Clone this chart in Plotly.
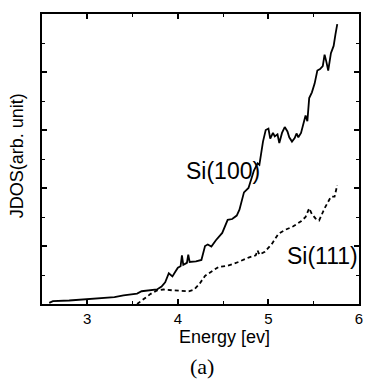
import plotly.graph_objects as go

# Data
energy_100 = [2.58, 2.62, 2.8, 3.0, 3.1, 3.2, 3.3, 3.4, 3.5, 3.55, 3.6, 3.7, 3.77, 3.82, 3.86,
              3.9, 3.94, 3.97, 4.0, 4.03, 4.045, 4.06, 4.08, 4.1, 4.115, 4.13, 4.2, 4.26, 4.3,
              4.33, 4.37, 4.42, 4.49, 4.55, 4.6, 4.65, 4.68, 4.73, 4.78, 4.81, 4.84, 4.88, 4.9,
              4.94, 4.97, 5.0, 5.02, 5.05, 5.07, 5.1, 5.12, 5.15, 5.18, 5.21, 5.23, 5.26, 5.29,
              5.31, 5.33, 5.36, 5.39, 5.41, 5.43, 5.45, 5.48, 5.51, 5.54, 5.57, 5.6, 5.62, 5.64,
              5.66, 5.69, 5.72, 5.74, 5.76]
jdos_100 = [0.04, 0.1, 0.12, 0.16, 0.2, 0.22, 0.24, 0.3, 0.33, 0.36, 0.44, 0.47, 0.5, 0.6, 0.75,
            1.06, 0.95, 1.1, 1.25, 1.3, 1.68, 1.35, 1.4, 1.42, 1.7, 1.45, 1.47, 1.52, 2.0,
            2.05, 1.98, 2.2, 2.45, 2.9, 2.93, 3.05, 3.25, 3.85, 4.0, 4.3, 4.6, 4.85, 4.8,
            5.6, 6.0, 6.05, 5.7, 5.9, 5.78, 5.85, 5.55, 5.9, 6.1, 5.95, 5.75, 5.6, 5.72,
            5.88, 5.75, 5.9, 6.3, 6.5, 6.3, 7.1, 7.3, 7.6, 8.05, 8.1, 8.2, 8.6, 8.35,
            8.05, 8.65, 8.9, 9.3, 9.65]

energy_111 = [3.55, 3.6, 3.65, 3.7, 3.77, 3.84, 3.95, 4.05, 4.12, 4.18, 4.24, 4.3, 4.38, 4.45,
              4.55, 4.67, 4.78, 4.86, 4.88, 4.9, 4.96, 5.04, 5.11, 5.18, 5.27, 5.36, 5.41, 5.45,
              5.48, 5.52, 5.56, 5.62, 5.69, 5.73, 5.76]
jdos_111 = [0.0, 0.12, 0.25, 0.35, 0.47, 0.5, 0.47, 0.44, 0.44, 0.5, 0.7, 0.97, 1.15, 1.28,
            1.32, 1.45, 1.6, 1.68, 1.85, 1.7, 1.8, 2.08, 2.42, 2.55, 2.67, 2.85, 3.0, 3.3,
            3.1, 2.95, 2.88, 3.3, 3.7, 3.7, 4.1]

x_ticks = [3, 4, 5, 6]
x_range = [2.5, 6]
y_range = [0, 10]

label_100 = "Si(100)"
label_111 = "Si(111)"
x_title = "Energy [ev]"
y_title = "JDOS(arb. unit)"
caption = "(a)"

fig = go.Figure()
fig.add_trace(go.Scatter(x=energy_100, y=jdos_100, mode="lines",
                         line=dict(color="black", width=1.8), showlegend=False))
fig.add_trace(go.Scatter(x=energy_111, y=jdos_111, mode="lines",
                         line=dict(color="black", width=1.8, dash="4px,3px"), showlegend=False))

font_main = "Liberation Sans, Arial, sans-serif"
anch = dict(xanchor="center", yanchor="middle", showarrow=False)

fig.add_annotation(x=4.5, y=4.6, text=label_100,
                   font=dict(family=font_main, size=23, color="black"), **anch)
fig.add_annotation(x=5.6, y=1.66, text=label_111,
                   font=dict(family=font_main, size=23, color="black"), **anch)
fig.add_annotation(xref="paper", yref="paper", x=0.577, y=-0.114, text=x_title,
                   font=dict(family=font_main, size=18, color="black"), **anch)
fig.add_annotation(xref="paper", yref="paper", x=-0.078, y=0.51, text=y_title,
                   textangle=-90,
                   font=dict(family=font_main, size=18, color="black"), **anch)
fig.add_annotation(xref="paper", yref="paper", x=0.505, y=-0.214, text=caption,
                   font=dict(family="Liberation Serif, Times New Roman, serif", size=22, color="black"),
                   **anch)

axis_common = dict(showgrid=False, zeroline=False, showline=True, linecolor="black",
                   linewidth=1.8, mirror="ticks", ticks="inside", tickcolor="black",
                   tickwidth=1.5)

fig.update_xaxes(range=x_range, tickvals=x_ticks, ticklen=5,
                 tickfont=dict(family=font_main, size=15, color="black"),
                 minor=dict(dtick=0.5, ticks="inside", ticklen=3, tickcolor="black", tickwidth=1.2),
                 **axis_common)
fig.update_yaxes(range=y_range, dtick=2, ticklen=5, showticklabels=False,
                 minor=dict(dtick=1, ticks="inside", ticklen=3, tickcolor="black", tickwidth=1.2),
                 **axis_common)

fig.update_layout(width=369, height=379, margin=dict(l=42, r=6, t=14, b=75),
                  plot_bgcolor="white", paper_bgcolor="white")

fig.write_html("out.html")
